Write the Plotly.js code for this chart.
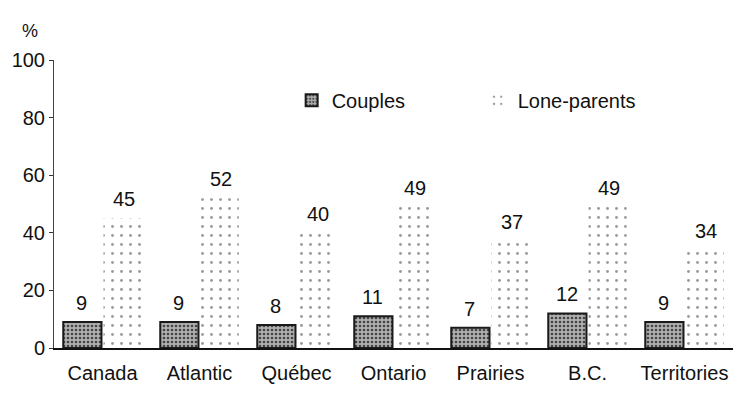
<!DOCTYPE html>
<html>
<head>
<meta charset="utf-8">
<script src="https://cdn.plot.ly/plotly-3.0.1.min.js"></script>
<style>html,body{margin:0;padding:0;background:#fff;}#chart{width:733px;height:399px;}</style>
</head>
<body>
<div id="chart"></div>
<script>
const regions = ["Canada", "Atlantic", "Québec", "Ontario", "Prairies", "B.C.", "Territories"];
const couples = [9, 9, 8, 11, 7, 12, 9];
const loneParents = [45, 52, 40, 49, 37, 49, 34];
const yTicks = [0, 20, 40, 60, 80, 100];

const fam = "Liberation Sans, Arial, sans-serif";
const font = {family: fam, color: "#111", size: 20};

const traces = [
  {
    type: "bar", name: "Couples", x: regions, y: couples,
    marker: {color: "#9a9a9a", line: {color: "#1a1a1a", width: 2},
             pattern: {shape: ".", fgcolor: "#444", bgcolor: "#b0b0b0", size: 4, solidity: 0.35}},
    hoverinfo: "none"
  },
  {
    type: "bar", name: "Lone-parents", x: regions, y: loneParents,
    marker: {color: "#ffffff", line: {color: "rgba(0,0,0,0)", width: 0},
             pattern: {shape: ".", fgcolor: "#9a9a9a", bgcolor: "#ffffff", size: 9, solidity: 0.08}},
    hoverinfo: "none"
  }
];

const annotations = [];
regions.forEach((r, i) => {
  annotations.push({x: r, y: couples[i], text: String(couples[i]), xref: "x", yref: "y",
    showarrow: false, xshift: -21, yshift: 19, font: {size: 20, color: "#111", family: fam}});
  annotations.push({x: r, y: loneParents[i], text: String(loneParents[i]), xref: "x", yref: "y",
    showarrow: false, xshift: 21, yshift: 19, font: {size: 20, color: "#111", family: fam}});
});
annotations.push({text: "%", xref: "paper", yref: "paper", x: -0.035, y: 1.06, xanchor: "center",
  yanchor: "bottom", showarrow: false, font: {size: 18, color: "#111", family: fam}});

const layout = {
  width: 733, height: 399,
  margin: {l: 54, r: 0, t: 60, b: 51},
  paper_bgcolor: "#fff", plot_bgcolor: "#fff",
  font: font,
  barmode: "group", bargap: 0.17, bargroupgap: 0.05,
  showlegend: true,
  legend: {orientation: "h", x: 0.35, y: 0.86, xanchor: "left", yanchor: "middle",
           entrywidth: 141, font: {size: 20, family: fam}, bgcolor: "rgba(0,0,0,0)"},
  xaxis: {type: "category", showline: true, linecolor: "#111", linewidth: 1.5,
          ticks: "", showgrid: false, zeroline: false, tickfont: {size: 20}, ticklabelstandoff: 6,
          fixedrange: true},
  yaxis: {range: [0, 100], tickvals: yTicks, ticktext: yTicks.map(String), showline: true,
          linecolor: "#444", linewidth: 1, ticks: "outside", ticklen: 4, tickcolor: "#333",
          showgrid: false, zeroline: false, tickfont: {size: 20}, fixedrange: true},
  annotations: annotations
};

Plotly.newPlot("chart", traces, layout, {displayModeBar: false, staticPlot: true});
</script>
</body>
</html>
